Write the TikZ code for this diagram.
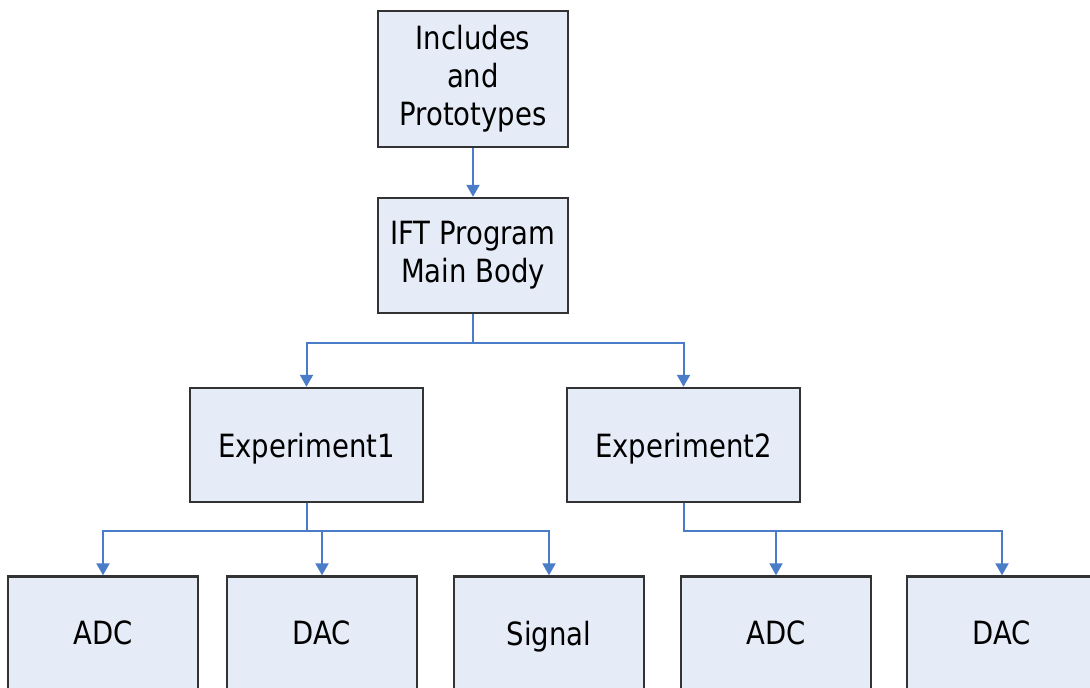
\documentclass[tikz,border=0pt]{standalone}
\usepackage{fontspec}
\setmainfont{DejaVu Sans}[FakeStretch=0.86]
\usepackage{tikz}
\usetikzlibrary{arrows.meta,positioning}
\usepackage{xcolor}
\definecolor{boxfill}{HTML}{E6ECF7}
\definecolor{boxline}{HTML}{333333}
\definecolor{linkblue}{HTML}{4A7CC8}

\begin{document}
\begin{tikzpicture}[x=0.5pt,y=-0.5pt,
	conn/.style={draw=linkblue,line width=1pt,-{Triangle[length=6pt,width=6.5pt]}},
	oneline/.style={text depth=0pt}]
	\useasboundingbox (0,0) rectangle (1090,687);
	\begin{scope}[every node/.style={rectangle,draw=boxline,line width=1.2pt,fill=boxfill,
		minimum width=95pt,minimum height=56.5pt,inner sep=2pt,align=center,
		font=\fontsize{16}{19}\selectfont}]
		\node[minimum height=68pt] (inc) at (473,79) {Includes\\and\\Prototypes};
		\node[minimum height=57.5pt] (main) at (473,255.5) {IFT Program\\Main Body};
		\node[oneline,minimum width=116.5pt,minimum height=57pt] (exp1) at (306.5,445) {Experiment1};
		\node[oneline,minimum width=116.5pt,minimum height=57pt] (exp2) at (683.5,445) {Experiment2};
		\node[oneline] (adc1) at (103,633) {ADC};
		\node[oneline] (dac1) at (322,633) {DAC};
		\node[oneline] (signal) at (549,633) {Signal};
		\node[oneline] (adc2) at (776,633) {ADC};
		\node[oneline] (dac2) at (1002,633) {DAC};
	\end{scope}

	\begin{scope}
	\draw[conn] (inc) -- (main);
	\draw[conn] (main.south) -- ++(0,29) -| (exp1.north);
	\draw[conn] (main.south) -- ++(0,29) -| (exp2.north);
	\draw[conn] (exp1.south) -- ++(0,28) -| (adc1.north);
	\draw[conn] (exp1.south) -- ++(0,28) -| (dac1.north);
	\draw[conn] (exp1.south) -- ++(0,28) -| (signal.north);
	\draw[conn] (exp2.south) -- ++(0,28) -| (adc2.north);
	\draw[conn] (exp2.south) -- ++(0,28) -| (dac2.north);
	\end{scope}
\end{tikzpicture}
\end{document}
